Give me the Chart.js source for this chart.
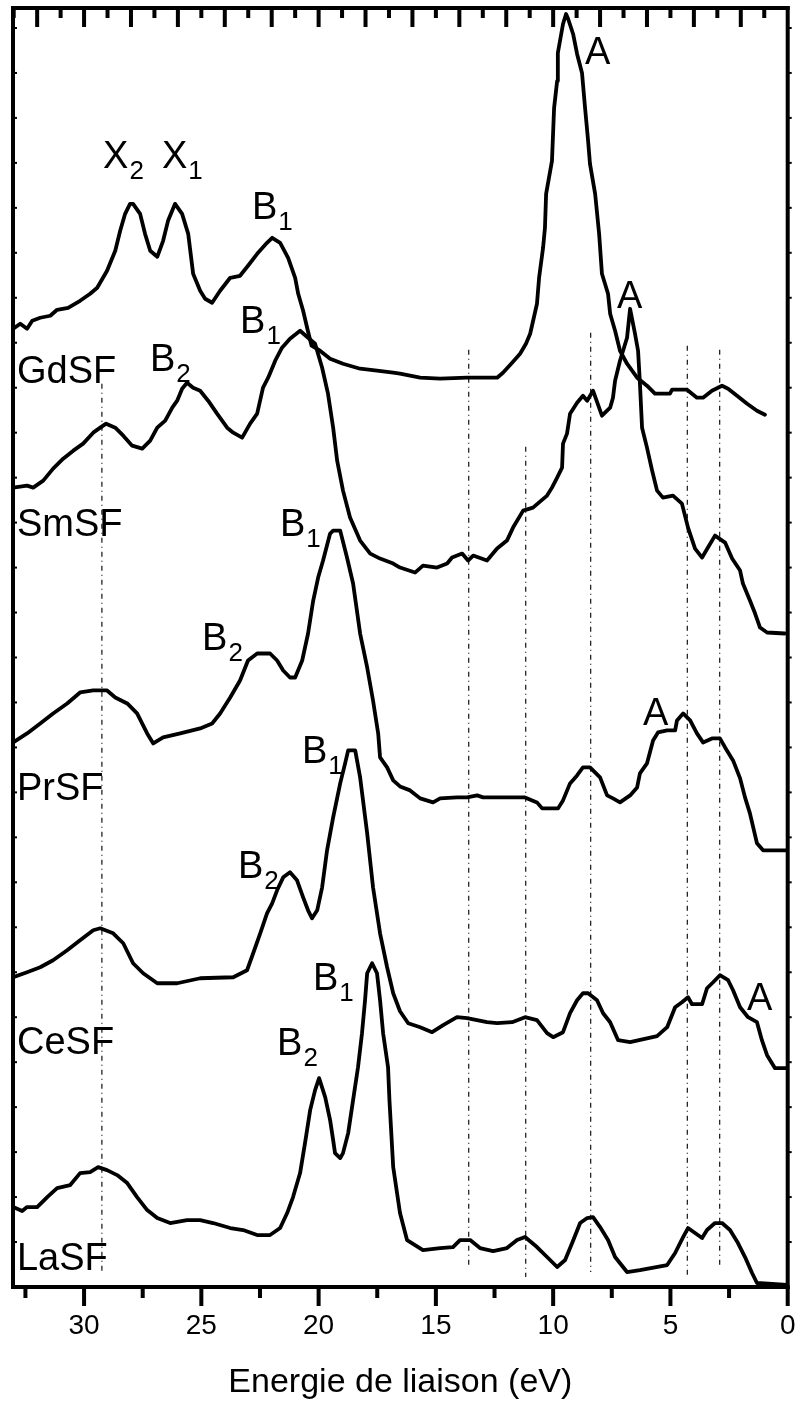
<!DOCTYPE html>
<html>
<head>
<meta charset="utf-8">
<script src="https://cdn.jsdelivr.net/npm/chart.js@4.4.1/dist/chart.umd.min.js"></script>
<style>
  html, body { margin: 0; padding: 0; background: #fff; }
  canvas { display: block; }
</style>
</head>
<body>
<canvas id="spectra" width="797" height="1407"></canvas>
<script>
// Valence-band spectra of the LnSF compounds, vertically offset (arbitrary units).

const gdEnergy = [33.02,32.72,32.43,32.21,31.87,31.44,31.15,30.68,30.17,29.74,29.44,29.02,28.67,28.46,28.25,28.04,27.91,27.61,27.40,27.18,26.88,26.63,26.42,26.12,25.82,25.56,25.35,25.05,24.84,24.54,24.20,23.77,23.35,23.01,22.62,22.20,21.98,21.64,21.30,21.00,20.87,20.66,20.49,20.30,19.94,19.51,18.96,18.23,17.51,16.82,16.53,16.10,15.67,14.82,13.67,12.39,12.14,11.75,11.41,11.16,10.98,10.69,10.60,10.43,10.35,10.30,10.05,9.96,9.83,9.80,9.58,9.45,9.36,9.15,8.98,8.77,8.64,8.51,8.43,8.21,8.04,7.92,7.66,7.57,7.36,7.15,6.85,6.42,6.00,5.66,5.02,4.93,4.29,3.87,3.61,3.23,2.80,2.54,2.16,1.73,1.31,0.97];
const gdIntensity = [95.9,96.4,95.9,96.7,97.0,97.2,97.8,98.0,98.7,99.4,100.0,101.7,103.7,105.7,107.4,108.4,108.4,107.4,105.4,103.7,103.1,104.7,106.7,108.4,107.4,105.4,101.4,99.7,98.9,98.5,99.7,101.0,101.2,102.2,103.4,104.5,105.0,104.5,103.0,101.0,99.4,97.7,96.0,94.2,93.7,92.9,92.4,91.9,91.7,91.5,91.4,91.2,91.0,90.9,91.0,91.0,91.5,92.5,93.4,94.4,95.4,98.4,101.0,104.0,106.0,109.4,112.7,118.0,120.7,123.5,126.4,127.4,126.9,125.4,123.4,121.5,118.0,114.7,112.4,109.4,105.4,101.4,99.4,97.4,95.7,93.7,92.4,91.0,90.2,89.4,89.4,89.8,89.8,89.0,89.0,89.7,90.2,89.9,89.2,88.4,87.7,87.3];

const smEnergy = [33.02,32.43,32.17,31.74,31.32,30.89,30.46,30.04,29.61,29.31,29.06,28.67,28.33,27.95,27.52,27.18,26.88,26.54,26.24,26.03,25.82,25.61,25.35,25.05,24.71,24.33,23.90,23.64,23.26,22.92,22.62,22.37,22.15,21.85,21.56,21.22,20.79,20.45,20.15,19.85,19.60,19.38,19.21,18.96,18.66,18.23,17.80,17.38,16.82,16.53,15.89,15.55,14.95,14.52,14.31,13.88,13.63,13.41,12.82,12.39,11.97,11.71,11.28,10.86,10.26,10.05,9.83,9.62,9.58,9.41,9.28,8.98,8.73,8.55,8.30,7.92,7.57,7.45,7.36,7.15,6.85,6.72,6.51,6.38,6.30,6.21,6.00,5.78,5.57,5.32,4.89,4.51,4.25,3.95,3.65,3.40,3.10,2.67,2.37,2.03,1.91,1.61,1.39,1.18,0.88,0.12];
const smIntensity = [80.0,80.2,80.0,80.7,81.9,82.9,83.7,84.4,85.5,86.0,86.4,86.0,85.2,84.2,83.9,84.7,86.0,86.7,88.0,88.7,89.9,90.5,90.0,89.7,88.7,87.4,86.0,85.5,85.0,86.4,87.4,90.0,91.0,92.7,94.0,94.9,95.7,95.0,94.4,92.0,89.4,86.0,82.7,79.7,77.0,74.7,73.4,72.9,72.4,72.0,71.5,72.2,72.0,72.4,73.0,73.4,72.7,73.2,72.7,73.9,74.7,76.0,77.7,78.0,79.2,80.0,81.0,82.0,84.4,85.4,87.4,88.5,89.2,88.7,89.7,87.2,88.0,89.0,90.7,92.7,95.0,97.9,95.4,93.7,90.4,86.0,84.0,81.7,79.7,79.0,79.2,78.4,76.0,73.9,73.0,74.0,75.2,74.5,72.9,71.7,70.4,68.7,67.4,66.0,65.5,65.4];

const prEnergy = [33.02,32.43,31.87,31.32,30.72,30.17,29.61,29.02,28.67,28.16,27.74,27.31,27.05,26.63,25.90,25.05,24.54,24.20,23.77,23.35,23.01,22.62,22.07,21.77,21.51,21.22,21.00,20.70,20.45,20.23,20.02,19.81,19.51,19.38,19.08,18.79,18.53,18.23,17.93,17.68,17.46,17.38,17.08,16.82,16.53,16.10,15.67,15.12,14.82,14.10,13.67,13.24,12.99,11.20,10.69,10.47,9.79,9.58,9.28,8.98,8.73,8.43,8.00,7.70,7.45,7.15,6.72,6.42,6.30,6.00,5.74,5.53,5.14,4.80,4.72,4.46,4.16,3.87,3.61,3.23,2.89,2.67,2.33,2.03,1.82,1.61,1.31,1.05,0.03];
const prIntensity = [54.5,55.4,56.4,57.4,58.4,59.5,59.7,59.7,59.0,58.4,57.4,55.4,54.4,55.0,55.4,55.9,56.4,57.4,59.0,60.7,62.7,63.4,63.4,62.7,61.7,61.0,61.0,62.7,65.4,68.7,71.0,72.7,75.4,75.7,75.7,73.0,70.4,65.4,62.0,58.7,55.4,53.0,52.0,50.7,50.1,49.7,48.9,48.5,48.9,49.0,49.0,49.2,49.0,49.0,48.5,47.9,47.9,48.7,50.4,51.2,52.0,52.0,51.0,49.2,48.9,48.5,49.2,50.0,51.4,52.4,54.7,55.5,55.7,55.7,56.7,57.4,56.7,55.4,54.5,54.9,54.9,54.0,52.7,50.9,49.0,47.4,44.4,43.7,43.7];

const ceEnergy = [33.02,32.43,31.87,31.32,30.72,30.17,29.61,29.31,28.76,28.33,27.91,27.48,26.88,26.03,25.05,23.64,23.05,22.79,22.49,22.20,21.98,21.77,21.51,21.22,20.92,20.66,20.45,20.28,20.06,19.85,19.64,19.38,19.08,18.87,18.74,18.44,18.23,17.93,17.68,17.38,17.08,16.82,16.53,16.18,15.67,15.16,14.69,14.10,13.67,12.82,12.39,11.75,11.20,10.69,10.26,10.00,9.58,9.28,8.98,8.73,8.51,8.13,7.87,7.57,7.23,6.72,5.57,5.14,4.80,4.51,4.25,4.08,3.65,3.44,3.18,2.89,2.54,2.33,2.03,1.69,1.31,1.10,0.88,0.54,0.03];
const ceIntensity = [31.0,31.5,32.0,32.7,33.7,34.7,35.7,35.9,35.4,34.4,32.4,31.4,30.4,30.4,30.9,31.0,31.7,33.4,35.4,37.4,38.4,39.7,41.0,41.5,40.7,39.0,37.7,36.9,37.7,40.0,43.7,47.0,50.4,52.4,53.7,53.7,51.0,45.4,40.0,35.4,32.0,29.4,27.6,26.4,26.0,25.5,26.2,27.0,26.9,26.5,26.4,26.5,27.0,26.7,25.4,25.0,25.5,27.4,28.7,29.4,29.4,28.7,27.4,26.5,24.7,24.5,25.1,26.0,28.0,28.5,29.0,28.3,28.3,29.9,30.5,31.2,30.7,29.7,28.0,27.0,26.5,24.7,23.2,21.9,21.9];

const laEnergy = [33.02,32.64,32.43,32.00,31.57,31.15,30.59,30.17,29.74,29.40,29.02,28.59,28.16,27.74,27.31,26.88,26.33,25.61,25.05,24.50,23.77,23.22,22.62,22.07,21.64,21.34,21.09,20.79,20.58,20.36,20.15,19.98,19.72,19.51,19.38,19.30,19.08,18.96,18.74,18.53,18.32,18.15,18.02,17.93,17.72,17.51,17.38,17.25,17.04,16.98,16.82,16.53,16.23,15.55,14.82,14.27,13.97,13.54,13.12,12.56,11.97,11.54,11.20,10.69,10.26,9.83,9.49,9.19,8.85,8.55,8.30,8.00,7.66,7.36,6.85,6.30,5.14,4.80,4.46,4.25,3.95,3.65,3.44,3.10,2.80,2.46,2.12,1.82,1.52,1.31,0.03];
const laIntensity = [8.0,7.6,8.0,8.0,9.0,9.9,10.2,11.4,11.5,12.0,11.7,11.2,10.4,9.0,7.7,6.9,6.4,6.7,6.7,6.4,5.9,5.7,5.2,5.2,5.9,7.4,9.0,11.4,14.4,17.7,19.7,20.9,19.0,16.7,14.7,13.4,12.9,13.4,15.4,18.7,22.0,25.4,28.7,31.4,32.4,31.4,28.7,25.4,22.0,18.7,12.0,7.4,4.7,3.7,3.9,4.0,4.7,4.7,3.9,3.6,3.9,4.7,5.0,4.0,3.0,2.0,2.7,4.4,6.4,6.9,7.0,6.0,4.7,3.0,1.5,1.7,2.2,3.4,5.0,5.9,5.4,4.9,5.7,6.4,6.4,5.7,4.4,3.0,1.4,0.4,0.2];

// Axis ticks (eV)
const xTickLabels = [0, 5, 10, 15, 20, 25, 30];

// Dash-dot guide lines: energy, upper and lower intensity
const guideEnergy = [29.24, 13.60, 11.17, 8.40, 4.28, 2.90];
const guideTop = [90.4, 93.8, 84.1, 95.5, 94.2, 93.8];
const guideBottom = [1.5, 1.9, 1.0, 1.5, 0.9, 1.9];

// Compound names, placed at the left edge (energy, baseline intensity)
const compoundNames = ['GdSF', 'SmSF', 'PrSF', 'CeSF', 'LaSF'];
const compoundNameE = [32.86, 32.86, 32.86, 32.86, 32.86];
const compoundNameI = [90.5, 75.2, 48.7, 23.3, 1.7];

// Peak annotations: letter, subscript, anchor energy, baseline intensity
const peakLetter = ['X', 'X', 'B', 'A', 'B', 'B', 'A', 'B', 'B', 'A', 'B', 'B', 'A', 'B', 'B'];
const peakIndex  = ['2', '1', '1', '',  '1', '2', '',  '1', '2', '',  '1', '2', '',  '1', '2'];
const peakE = [29.19, 26.68, 22.84, 8.64, 23.35, 27.19, 7.28, 21.65, 24.97, 6.17, 20.71, 23.44, 1.74, 20.24, 21.77];
const peakI = [112.0, 112.0, 106.9, 122.4, 95.5, 91.7, 98.0, 75.2, 63.7, 56.2, 52.4, 40.9, 27.7, 29.7, 23.2];

const FONT = "'Liberation Sans', Arial, Helvetica, sans-serif";

function zip(xs, ys) {
  return xs.map((v, i) => ({ x: v, y: ys[i] }));
}

const spectra = [
  [gdEnergy, gdIntensity],
  [smEnergy, smIntensity],
  [prEnergy, prIntensity],
  [ceEnergy, ceIntensity],
  [laEnergy, laIntensity]
];

const datasets = spectra.map(([e, i], k) => ({
  label: compoundNames[k],
  data: zip(e, i),
  borderColor: '#000',
  borderWidth: 3.8,
  borderJoinStyle: 'round',
  borderCapStyle: 'round',
  pointRadius: 0,
  tension: 0,
  order: 1
}));

guideEnergy.forEach((e, k) => {
  datasets.push({
    label: 'guide' + k,
    data: [{ x: e, y: guideTop[k] }, { x: e, y: guideBottom[k] }],
    borderColor: '#111',
    borderWidth: 1.2,
    borderDash: [5, 4, 1, 4],
    pointRadius: 0,
    order: 2
  });
});

// Box frame with tick marks, plus the text annotations
const framePlugin = {
  id: 'frame',
  afterDraw(chart) {
    const { ctx, chartArea: a } = chart;
    const xs = chart.scales.x, ys = chart.scales.y;
    const W = 4;
    ctx.save();
    ctx.fillStyle = '#000';

    // frame centred on the chart-area edges
    ctx.fillRect(a.left - W / 2, a.top - W / 2, a.right - a.left + W, W);
    ctx.fillRect(a.left - W / 2, a.bottom - W / 2, a.right - a.left + W, W);
    ctx.fillRect(a.left - W / 2, a.top - W / 2, W, a.bottom - a.top + W);
    ctx.fillRect(a.right - W / 2, a.top - W / 2, W, a.bottom - a.top + W);

    // bottom axis: major every 5 eV, minor every 2.5 eV, pointing outward
    for (let n = 0; n * 2.5 <= xs.max; n++) {
      const px = xs.getPixelForValue(n * 2.5);
      const len = n % 2 === 0 ? 19 : 11;
      ctx.fillRect(px - W / 2, a.bottom, W, len);
    }
    // top axis: major every 2 eV, minor every 1 eV, pointing inward
    for (let v = 1; v <= xs.max; v++) {
      const px = xs.getPixelForValue(v);
      const len = v % 2 === 0 ? 19 : 10;
      ctx.fillRect(px - W / 2, a.top, W, len);
    }
    // small side ticks
    for (let v = 4.5; v < ys.max; v += 4.5) {
      const py = ys.getPixelForValue(v);
      ctx.fillRect(a.left, py - 1, 4, 2);
      ctx.fillRect(a.right, py - 1, 4, 2);
    }

    ctx.textAlign = 'left';
    ctx.textBaseline = 'alphabetic';
    ctx.font = '38px ' + FONT;
    compoundNames.forEach((name, k) => {
      ctx.fillText(name, xs.getPixelForValue(compoundNameE[k]), ys.getPixelForValue(compoundNameI[k]));
    });

    peakLetter.forEach((letter, k) => {
      const px = xs.getPixelForValue(peakE[k]);
      const py = ys.getPixelForValue(peakI[k]);
      ctx.font = '38px ' + FONT;
      ctx.fillText(letter, px, py);
      if (peakIndex[k]) {
        const w = ctx.measureText(letter).width;
        ctx.font = '26px ' + FONT;
        ctx.fillText(peakIndex[k], px + w + 1, py + 11);
      }
    });
    ctx.restore();
  }
};

new Chart(document.getElementById('spectra'), {
  type: 'line',
  data: { datasets },
  options: {
    responsive: false,
    animation: false,
    devicePixelRatio: 1,
    layout: { padding: { left: 13, right: 9.3, top: 8, bottom: 0 } },
    plugins: { legend: { display: false }, tooltip: { enabled: false } },
    scales: {
      x: {
        type: 'linear',
        reverse: true,
        min: 0,
        max: 33.03,
        afterBuildTicks: (s) => { s.ticks = xTickLabels.map(v => ({ value: v })); },
        afterFit: (s) => { s.height = 120; },
        grid: { display: false, drawTicks: false },
        border: { display: false },
        ticks: {
          color: '#000',
          font: { family: FONT, size: 28 },
          padding: 22,
          maxRotation: 0,
          autoSkip: false
        },
        title: {
          display: true,
          text: 'Energie de liaison (eV)',
          color: '#000',
          font: { family: FONT, size: 34 },
          padding: { top: 4, bottom: 4 }
        }
      },
      y: { type: 'linear', min: 0, max: 128, display: false }
    }
  },
  plugins: [framePlugin]
});
</script>
</body>
</html>
